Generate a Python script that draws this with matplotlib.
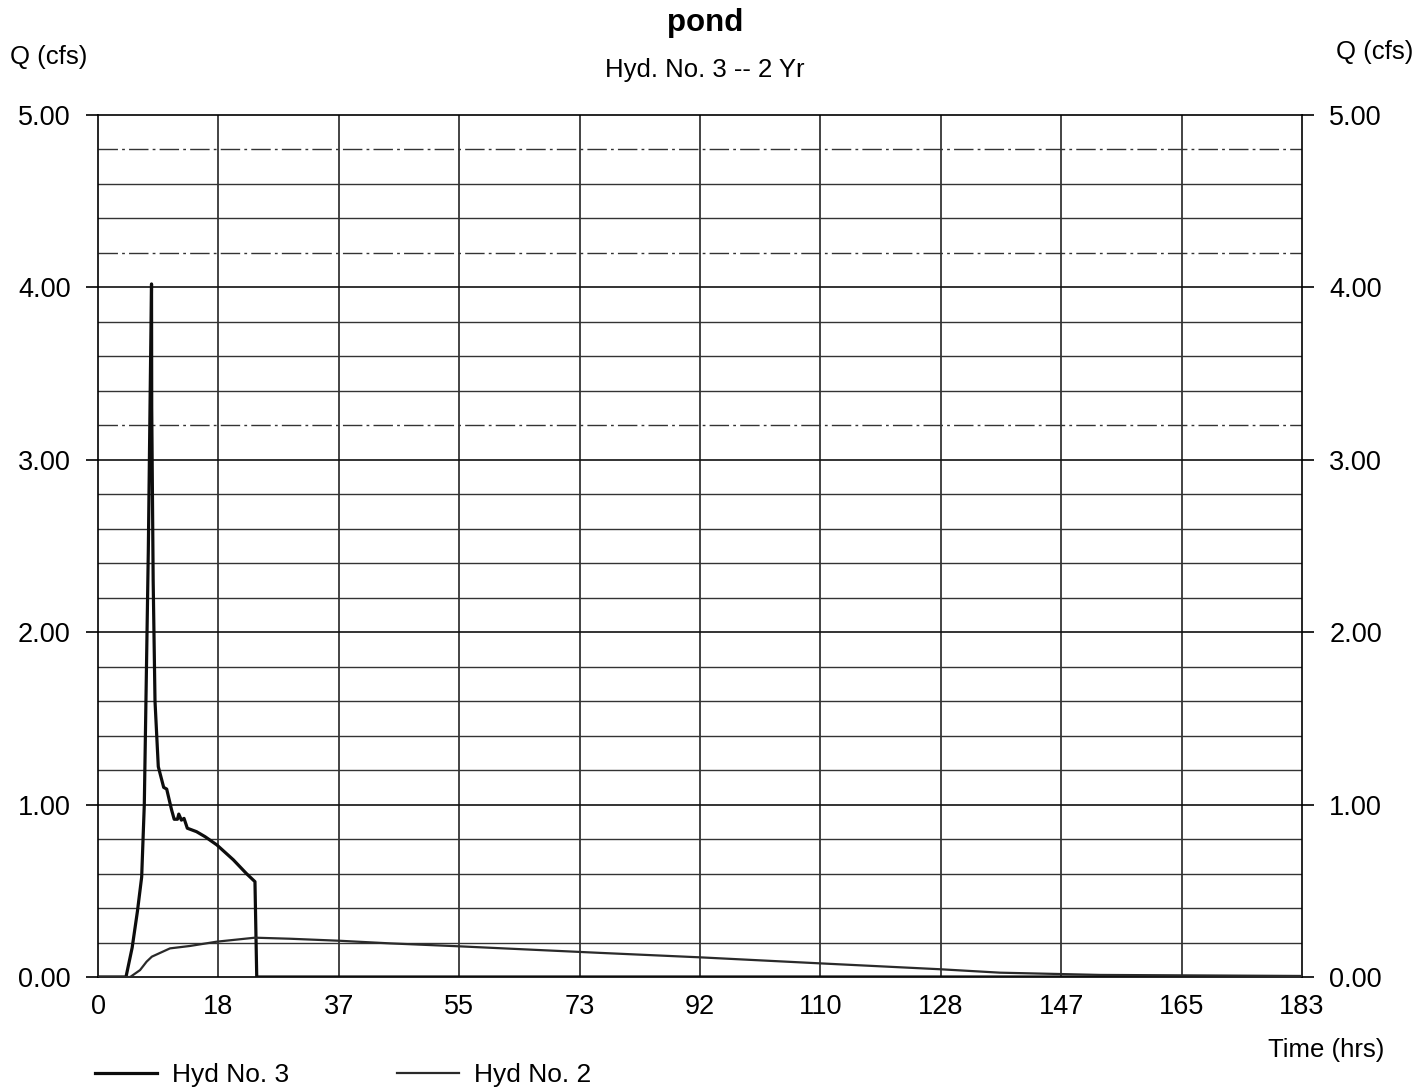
import numpy as np
import matplotlib
matplotlib.use("Agg")
import matplotlib.pyplot as plt

plt.rcParams['font.family'] = ['Liberation Sans', 'DejaVu Sans']

# Hydrograph No. 3 (outflow) - time in hours, flow in cfs
hyd3_time = [0.0, 4.26, 5.2, 6.0, 6.65, 7.05, 7.3, 7.66, 7.95, 8.15, 8.18, 8.4, 8.68,
             9.18, 10.0, 10.46, 11.2, 11.6, 12.1, 12.3, 12.7, 13.1, 13.6, 15.0,
             16.3, 18.1, 20.6, 22.6, 23.9, 24.17, 60.0, 120.0, 183.3]
hyd3_flow = [0.0, 0.0, 0.17, 0.38, 0.58, 1.0, 1.6, 2.47, 3.4, 4.02, 3.3, 2.3, 1.6,
             1.22, 1.10, 1.09, 0.97, 0.915, 0.915, 0.945, 0.91, 0.92, 0.863, 0.843,
             0.814, 0.766, 0.68, 0.60, 0.553, 0.0, 0.0, 0.0, 0.0]

# Hydrograph No. 2 (routed) - time in hours, flow in cfs
hyd2_time = [0.0, 4.9, 6.4, 7.4, 8.2, 10.96, 14.0, 18.1, 23.9, 29.2, 36.9, 44.5,
             55.0, 64.0, 76.4, 91.7, 110.0, 128.2, 137.4, 152.6, 183.3]
hyd2_flow = [0.0, 0.0, 0.04, 0.089, 0.118, 0.166, 0.18, 0.205, 0.228, 0.222, 0.21,
             0.195, 0.178, 0.162, 0.14, 0.114, 0.079, 0.045, 0.025, 0.012, 0.006]

time_tick_labels = ["0", "18", "37", "55", "73", "92", "110", "128", "147", "165", "183"]
time_max = 183.33
flow_tick_labels = ["0.00", "1.00", "2.00", "3.00", "4.00", "5.00"]
flow_max = 5.0

W, H = 1426, 1091
fig = plt.figure(figsize=(W / 100, H / 100), dpi=100)
ax = fig.add_axes([98 / W, 1 - 977 / H, 1204 / W, 862 / H])

ax.set_xlim(0, time_max)
ax.set_ylim(0, flow_max)

x_ticks = np.linspace(0, time_max, len(time_tick_labels))
y_ticks = np.linspace(0, flow_max, len(flow_tick_labels))
ax.set_xticks(x_ticks)
ax.set_xticklabels(time_tick_labels)
ax.set_yticks(y_ticks)
ax.set_yticklabels(flow_tick_labels)

ax.tick_params(axis='x', length=0, pad=12.5, labelsize=19.5)
ax.tick_params(axis='y', direction='out', length=8.6, width=1.2, pad=11,
               labelsize=19.5, left=True, right=True, labelleft=True, labelright=True)

for s in ax.spines.values():
    s.set_linewidth(1.2)
    s.set_color('black')

# Vertical grid at each time tick
for xv in x_ticks[1:-1]:
    ax.axvline(xv, color='#111111', lw=1.1, zorder=1)

# Horizontal grid every 0.2 cfs; a few lines print as dash-dot
dashdot_levels = [4.8, 4.2, 3.2]
for yv in np.arange(0.2, flow_max, 0.2):
    yv = round(yv, 1)
    major = abs(yv - round(yv)) < 1e-6
    if any(abs(yv - d) < 1e-6 for d in dashdot_levels):
        ax.axhline(yv, color='#333333', lw=1.0, ls=(0, (14, 3, 2, 3)), zorder=1)
    else:
        ax.axhline(yv, color='#111111' if major else '#333333',
                   lw=1.2 if major else 1.0, zorder=1)

l3, = ax.plot(hyd3_time, hyd3_flow, color='#0d0d0d', lw=2.3, zorder=3,
              solid_joinstyle='round', label='Hyd No. 3')
l2, = ax.plot(hyd2_time, hyd2_flow, color='#2a2a2a', lw=1.6, zorder=3,
              solid_joinstyle='round', label='Hyd No. 2')

fig.text(705 / W, 1 - 23 / H, "pond", ha='center', va='center',
         fontsize=22.5, fontweight='bold')
fig.text(705 / W, 1 - 70 / H, "Hyd. No. 3 -- 2 Yr", ha='center', va='center',
         fontsize=18.5)
fig.text(49 / W, 1 - 57 / H, "Q (cfs)", ha='center', va='center', fontsize=18.5)
fig.text(1375 / W, 1 - 52 / H, "Q (cfs)", ha='center', va='center', fontsize=18.5)
fig.text(1326 / W, 1 - 1050 / H, "Time (hrs)", ha='center', va='center', fontsize=18.5)

fig.legend(handles=[l3, l2], loc='center left',
           bbox_to_anchor=(95 / W, 1 - 1075 / H), ncol=2, frameon=False,
           fontsize=19, handlelength=2.35, handletextpad=0.57, columnspacing=4.1,
           borderpad=0, borderaxespad=0)

fig.savefig("out.png", dpi=100, facecolor='white')
